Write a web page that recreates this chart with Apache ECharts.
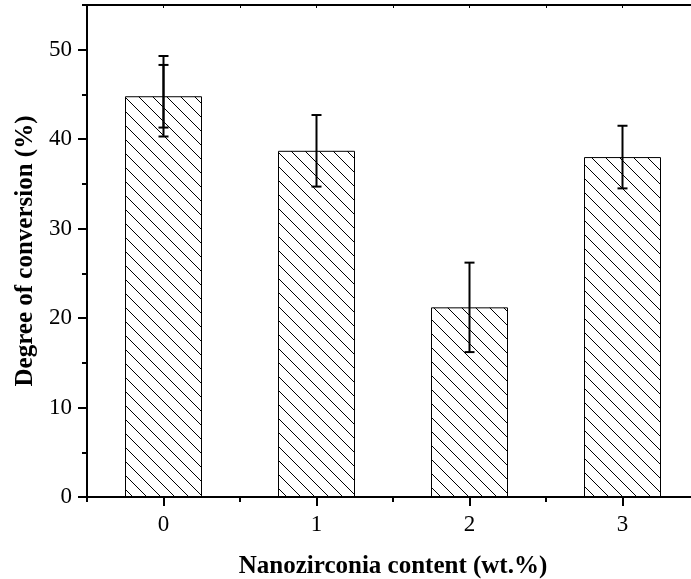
<!DOCTYPE html>
<html>
<head>
<meta charset="utf-8">
<script src="https://cdn.jsdelivr.net/npm/echarts@6/dist/echarts.min.js"></script>
<style>
  html, body { margin: 0; padding: 0; background: #fff; overflow: hidden; width: 691px; height: 579px; }
  /* the plot frame runs a little past the right edge of the page */
  #chart { width: 700px; height: 579px; }
</style>
</head>
<body>
<div id="chart"></div>
<script>
// Nanozirconia content categories and measured degree of conversion
const categories = ['0', '1', '2', '3'];
const conversion = [44.8, 38.7, 21.2, 38.0];
const errOuter = [4.5, 4.0, 5.0, 3.5];
const errInner = [3.5, null, null, null];
const yTicks = [0, 10, 20, 30, 40, 50];

const FONT = '"Liberation Serif", "Times New Roman", serif';

// Diagonal hatch fill for the bars
function hatchPattern(period) {
  const c = document.createElement('canvas');
  c.width = period; c.height = period;
  const ctx = c.getContext('2d');
  ctx.strokeStyle = '#000';
  ctx.lineWidth = 1;
  ctx.beginPath();
  for (const k of [-period, 0, period]) {
    ctx.moveTo(-1, -1 + k);
    ctx.lineTo(period + 1, period + 1 + k);
  }
  ctx.stroke();
  return c;
}

function errorBarSeries(errs, name) {
  const data = [];
  conversion.forEach((v, i) => {
    if (errs[i] != null) data.push([i, v - errs[i], v + errs[i]]);
  });
  return {
    type: 'custom',
    name: name,
    xAxisIndex: 0,
    yAxisIndex: 0,
    z: 5,
    renderItem: function (params, api) {
      const x = api.value(0);
      const lo = api.coord([x, api.value(1)]);
      const hi = api.coord([x, api.value(2)]);
      const half = 5;
      const style = { stroke: '#000', lineWidth: 2, fill: null };
      return {
        type: 'group',
        children: [
          { type: 'line', shape: { x1: hi[0], y1: hi[1], x2: lo[0], y2: lo[1] }, style: style },
          { type: 'line', shape: { x1: hi[0] - half, y1: hi[1], x2: hi[0] + half, y2: hi[1] }, style: style },
          { type: 'line', shape: { x1: lo[0] - half, y1: lo[1], x2: lo[0] + half, y2: lo[1] }, style: style }
        ]
      };
    },
    data: data
  };
}

const chart = echarts.init(document.getElementById('chart'), null, { renderer: 'canvas' });

const labelStyle = { fontFamily: FONT, fontSize: 23, color: '#000' };
const nameStyle = { fontFamily: FONT, fontSize: 25, fontWeight: 'bold', color: '#000' };

chart.setOption({
  animation: false,
  backgroundColor: '#fff',
  grid: { left: 87, top: 5, width: 612, height: 492, containLabel: false, outerBoundsMode: 'none' },
  xAxis: [
    {
      type: 'category',
      data: categories,
      position: 'bottom',
      axisLine: { show: true, lineStyle: { color: '#000', width: 2 } },
      axisTick: { show: true, length: 5, alignWithLabel: false, lineStyle: { color: '#000', width: 2 } },
      axisLabel: Object.assign({ margin: 16 }, labelStyle),
      name: 'Nanozirconia content (wt.%)',
      nameLocation: 'middle',
      nameGap: 57,
      nameTextStyle: nameStyle,
      splitLine: { show: false }
    },
    {
      type: 'category',
      data: categories,
      position: 'bottom',
      axisLine: { show: false },
      axisTick: { show: true, length: 9, alignWithLabel: true, lineStyle: { color: '#000', width: 2 } },
      axisLabel: { show: false },
      splitLine: { show: false }
    },
    {
      type: 'category',
      data: categories,
      position: 'top',
      axisLine: { show: true, lineStyle: { color: '#000', width: 2 } },
      axisTick: { show: true, inside: true, length: 3, alignWithLabel: false, lineStyle: { color: '#000', width: 1 } },
      axisLabel: { show: false },
      splitLine: { show: false }
    },
    {
      type: 'category',
      data: categories,
      position: 'top',
      axisLine: { show: false },
      axisTick: { show: true, inside: true, length: 3, alignWithLabel: true, lineStyle: { color: '#000', width: 1 } },
      axisLabel: { show: false },
      splitLine: { show: false }
    }
  ],
  yAxis: [
    {
      type: 'value',
      min: yTicks[0],
      max: 55,
      interval: yTicks[1] - yTicks[0],
      position: 'left',
      axisLine: { show: true, lineStyle: { color: '#000', width: 2 } },
      axisTick: { show: true, length: 9, lineStyle: { color: '#000', width: 2 } },
      axisLabel: Object.assign({ margin: 15, showMaxLabel: false }, labelStyle),
      splitLine: { show: false },
      name: 'Degree of conversion (%)',
      nameLocation: 'middle',
      nameGap: 49,
      nameTextStyle: nameStyle
    },
    {
      type: 'value',
      min: 0,
      max: 55,
      interval: 5,
      position: 'left',
      axisLine: { show: false },
      axisTick: { show: true, length: 5, lineStyle: { color: '#000', width: 2 } },
      axisLabel: { show: false },
      splitLine: { show: false }
    }
  ],
  series: [
    {
      type: 'bar',
      name: 'Degree of conversion',
      xAxisIndex: 0,
      yAxisIndex: 0,
      barWidth: 77,
      data: conversion,
      itemStyle: {
        color: { image: hatchPattern(14), repeat: 'repeat' },
        borderColor: '#000',
        borderWidth: 1
      },
      z: 2
    },
    errorBarSeries(errOuter, 'Error'),
    errorBarSeries(errInner, 'Error (inner)')
  ]
});
</script>
</body>
</html>
